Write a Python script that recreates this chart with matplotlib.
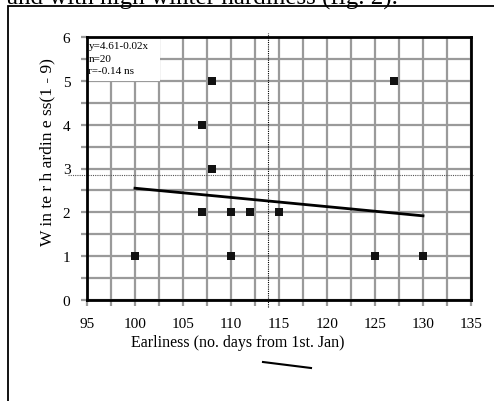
import matplotlib
matplotlib.use("Agg")
import matplotlib.pyplot as plt
from matplotlib.lines import Line2D
from matplotlib.patches import Rectangle
import numpy as np

# data (visible distinct points)
earliness = [100, 107, 107, 108, 108, 110, 110, 112, 115, 125, 127, 130]
hardiness = [1, 2, 4, 5, 3, 2, 1, 2, 2, 1, 5, 1]
fit_intercept = 4.65
fit_slope = -0.021
fit_range = [100, 130]
mean_x = 113.85
mean_y = 2.86
x_ticks = [95, 100, 105, 110, 115, 120, 125, 130, 135]
y_ticks = [0, 1, 2, 3, 4, 5, 6]
stats_text = "y=4.61-0.02x\nn=20\nr=-0.14 ns"

W, H = 494, 402
fig = plt.figure(figsize=(W / 100, H / 100), dpi=100)
plt.rcParams['font.family'] = ['Liberation Serif', 'DejaVu Serif']

def fx(px):
    return px / W

def fy(py):
    return 1 - py / H

ax = fig.add_axes([fx(87), fy(301), fx(471) - fx(87), fy(38) - fy(301)])
ax.set_xlim(95, 135)
ax.set_ylim(0, 6)
ax.set_xticks(x_ticks)
ax.set_yticks(y_ticks)
ax.set_xticks(np.arange(97.5, 135, 5), minor=True)
ax.set_yticks(np.arange(0.5, 6, 1), minor=True)
ax.grid(True, which='both', color='#9a9a9a', linewidth=1.6)
ax.set_axisbelow(True)
ax.tick_params(which='both', direction='out', length=4, width=1.6, color='#9a9a9a',
               labelsize=11, pad=8)
ax.tick_params(which='minor', labelbottom=False, labelleft=False)
for s in ax.spines.values():
    s.set_color('black')
    s.set_linewidth(2)
    s.set_zorder(5)

ax.scatter(earliness, hardiness, marker='s', s=28, color='#111111', zorder=4, linewidths=0)

xs = np.array(fit_range, dtype=float)
ax.plot(xs, fit_intercept + fit_slope * xs, color='black', linewidth=2, zorder=4)

ax.plot([mean_x, mean_x], [-0.15, 6.1], color='black', linewidth=0.8, linestyle=(0, (1, 1)),
        clip_on=False, zorder=3)
ax.plot([93.0, 135.2], [mean_y, mean_y], color='#555555', linewidth=0.8, linestyle=(0, (1, 1)),
        clip_on=False, zorder=3)

# stats box
ax.add_patch(Rectangle((95.05, 5.0), 7.6, 0.97, facecolor='white', edgecolor='none', zorder=3))
ax.text(95.15, 5.9, stats_text, fontsize=8, va='top', ha='left', linespacing=1.45, zorder=4)

# axis labels
fig.text(fx(237.5), fy(343), "Earliness (no. days from 1st. Jan)", fontsize=11.5,
         ha='center', va='center')
fig.text(fx(47), fy(152), "W in te r h ardin e ss(1 - 9)", fontsize=12.5,
         ha='center', va='center', rotation=90)

# outer frame
fig.add_artist(Rectangle((fx(8), fy(410)), fx(500) - fx(8), fy(7) - fy(410), transform=fig.transFigure,
                         facecolor='none', edgecolor='black', linewidth=1.3, clip_on=False))
# caption remnant
fig.text(fx(7), fy(4.5), "and with high winter hardiness (fig. 2).", fontsize=18,
         va='baseline', ha='left')
# stray line
fig.add_artist(Line2D([fx(263), fx(311)], [fy(363), fy(369)], color='black', linewidth=1.5))

fig.savefig("out.png", dpi=100)
